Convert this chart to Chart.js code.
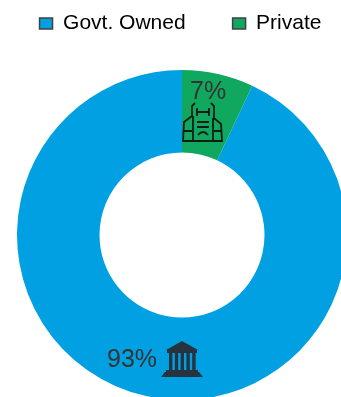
<!DOCTYPE html>
<html>
<head>
<meta charset="utf-8">
<style>
  html, body { margin: 0; padding: 0; background: #fff; overflow: hidden; }
  #grafico { display: block; }
</style>
<script src="https://cdn.jsdelivr.net/npm/chart.js@4"></script>
</head>
<body>
<canvas id="grafico" width="364" height="400"></canvas>
<script>
const categorias = ['Govt. Owned', 'Private'];
const valores = [93, 7];
const cores = ['#00a0e3', '#10a85f'];
const FONTE = '"Liberation Sans", Arial, sans-serif';

// Extra room under the legend row, and the row nudged left
const legendaAlta = {
    id: 'legendaAlta',
    beforeInit(chart) {
        const fit = chart.legend.fit;
        chart.legend.fit = function () {
            fit.call(this);
            this.height = 104;
        };
    },
    afterLayout(chart) {
        chart.legend.left -= 1.5;
        chart.legend.right -= 1.5;
    }
};

// Government building icon
function iconeBanco(ctx, x, y) {
    ctx.fillStyle = '#27333f';
    ctx.beginPath();
    ctx.moveTo(x + 20, y);
    ctx.lineTo(x + 36, y + 9);
    ctx.lineTo(x + 4, y + 9);
    ctx.closePath();
    ctx.fill();
    ctx.fillRect(x + 5, y + 9, 30, 3);
    for (let i = 0; i < 5; i++) {
        ctx.fillRect(x + 7 + i * 5.8, y + 12, 3.4, 18);
    }
    ctx.fillRect(x + 4, y + 29, 32, 2);
    ctx.beginPath();
    ctx.moveTo(x + 3, y + 31);
    ctx.lineTo(x + 37, y + 31);
    ctx.lineTo(x + 41, y + 36);
    ctx.lineTo(x - 1, y + 36);
    ctx.closePath();
    ctx.fill();
}

// Vest icon, line style
function iconeColete(ctx, x, y) {
    ctx.strokeStyle = '#111c17';
    ctx.lineWidth = 1.8;
    ctx.beginPath();
    // straps and shoulders
    ctx.moveTo(x + 13, y + 1);
    ctx.lineTo(x + 10, y + 4);
    ctx.lineTo(x + 10, y + 14);
    ctx.lineTo(x + 2, y + 20);
    ctx.lineTo(x + 1, y + 39);
    ctx.lineTo(x + 40, y + 39);
    ctx.lineTo(x + 39, y + 22);
    ctx.lineTo(x + 32, y + 16);
    ctx.lineTo(x + 32, y + 4);
    ctx.lineTo(x + 29, y + 1);
    // front panel
    ctx.moveTo(x + 11, y + 14);
    ctx.lineTo(x + 11, y + 39);
    ctx.moveTo(x + 31, y + 16);
    ctx.lineTo(x + 31, y + 39);
    // collar
    ctx.moveTo(x + 15, y + 6);
    ctx.lineTo(x + 15, y + 14);
    ctx.moveTo(x + 27, y + 6);
    ctx.lineTo(x + 27, y + 14);
    ctx.moveTo(x + 15, y + 10);
    ctx.lineTo(x + 27, y + 10);
    // chest bars
    ctx.moveTo(x + 15, y + 20);
    ctx.lineTo(x + 27, y + 20);
    ctx.moveTo(x + 15, y + 25);
    ctx.lineTo(x + 27, y + 25);
    ctx.moveTo(x + 16, y + 33);
    ctx.quadraticCurveTo(x + 21, y + 27, x + 26, y + 33);
    // pockets
    ctx.moveTo(x + 2, y + 29);
    ctx.lineTo(x + 10, y + 29);
    ctx.moveTo(x + 32, y + 29);
    ctx.lineTo(x + 39, y + 29);
    ctx.stroke();
}

// Percentage text and icon laid on each slice
const rotulos = {
    id: 'rotulos',
    afterDatasetsDraw(chart) {
        const ctx = chart.ctx;
        const cx = (chart.chartArea.left + chart.chartArea.right) / 2;
        const cy = (chart.chartArea.top + chart.chartArea.bottom) / 2;
        ctx.save();
        ctx.fillStyle = '#333333';
        ctx.textBaseline = 'alphabetic';
        ctx.textAlign = 'left';
        ctx.font = '25px ' + FONTE;
        ctx.fillText(valores[1] + '%', cx + 8, cy - 136);
        ctx.fillText(valores[0] + '%', cx - 75, cy + 132);
        ctx.filter = 'blur(0.5px)';
        iconeColete(ctx, cx + 0, cy - 133);
        iconeBanco(ctx, cx - 20, cy + 106);
        ctx.restore();
    }
};

new Chart(document.getElementById('grafico'), {
    type: 'doughnut',
    data: {
        labels: categorias,
        datasets: [{
            data: valores,
            backgroundColor: cores,
            borderWidth: 0
        }]
    },
    options: {
        responsive: false,
        animation: false,
        cutout: '50%',
        // the second slice sits just right of twelve o'clock
        rotation: valores[1] / 100 * 360,
        layout: { padding: { top: -34, left: -20, right: -20 } },
        plugins: {
            tooltip: { enabled: false },
            legend: {
                position: 'top',
                labels: {
                    boxWidth: 13,
                    boxHeight: 11,
                    padding: 47,
                    color: '#404040',
                    font: { size: 21, family: FONTE },
                    generateLabels(chart) {
                        return categorias.map((texto, i) => ({
                            text: texto,
                            fillStyle: cores[i],
                            strokeStyle: '#404040',
                            lineWidth: 1.5,
                            index: i
                        }));
                    }
                }
            }
        }
    },
    plugins: [legendaAlta, rotulos]
});
</script>
</body>
</html>
